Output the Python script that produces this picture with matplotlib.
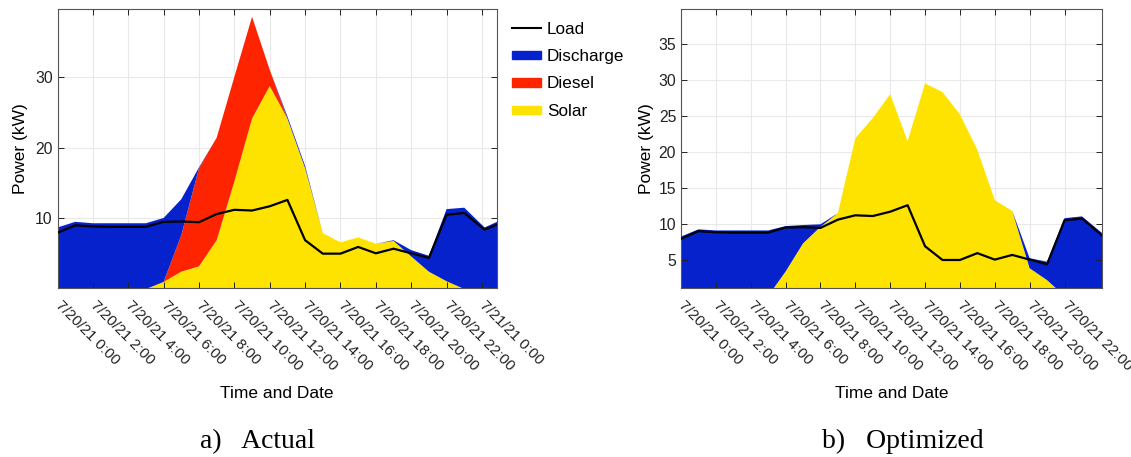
import matplotlib
matplotlib.use("Agg")
import matplotlib.pyplot as plt
from matplotlib.patches import Patch
from matplotlib.lines import Line2D

plt.rcParams['font.family'] = ['Liberation Sans', 'DejaVu Sans']

# hourly samples, 7/20/21 0:00 onwards (hours since midnight)
hours_act = [0, 1, 2, 3, 4, 5, 6, 7, 8, 9, 10, 11, 12, 13, 14, 15, 16, 17, 18, 19,
             20, 21, 22, 23, 24.15, 24.85]
hours_opt = hours_act[:25]

load_kw = [7.95, 9.0, 8.85, 8.8, 8.8, 8.8, 9.5, 9.55, 9.45, 10.6, 11.2, 11.1, 11.7,
           12.6, 6.9, 5.0, 5.0, 5.95, 5.05, 5.7, 5.05, 4.4, 10.5, 10.75, 8.4, 9.1]

# a) actual dispatch
solar_act = [0, 0, 0, 0, 0, 0, 1.0, 2.45, 3.2, 6.9, 15.2, 24.1, 28.7, 24.1, 17.1,
             7.9, 6.6, 7.3, 6.4, 6.8, 4.6, 2.45, 1.1, 0, 0, 0]
diesel_act = [0, 0, 0, 0, 0, 0, 0, 5.15, 13.9, 14.5, 14.8, 14.4, 2.3, 0, 0,
              0, 0, 0, 0, 0, 0, 0, 0, 0, 0, 0]
discharge_act = [8.7, 9.5, 9.3, 9.3, 9.3, 9.3, 9.05, 5.1, 0.1, 0, 0, 0, 0, 0.3, 0.3,
                 0, 0, 0, 0, 0.1, 0.9, 2.25, 10.2, 11.5, 8.7, 9.5]

# b) optimized dispatch
solar_opt = [0, 0, 0, 0, 0, 0, 3.4, 7.3, 9.6, 11.5, 21.9, 24.7, 28.0, 21.5, 29.5,
             28.3, 25.2, 20.3, 13.3, 11.8, 3.85, 2.2, 0, 0, 0]
diesel_opt = [0] * 25
discharge_opt = [8.25, 9.25, 9.1, 9.1, 9.1, 9.1, 6.3, 2.55, 0.35, 0, 0, 0, 0, 0, 0,
                 0, 0, 0, 0, 0, 1.4, 2.55, 10.8, 11.05, 8.75]

ticks_act = [0, 2, 4, 6, 8, 10, 12, 14, 16, 18, 20, 22, 24]
ticks_opt = ticks_act[:12]
tick_labels = ["7/20/21 0:00", "7/20/21 2:00", "7/20/21 4:00", "7/20/21 6:00",
               "7/20/21 8:00", "7/20/21 10:00", "7/20/21 12:00", "7/20/21 14:00",
               "7/20/21 16:00", "7/20/21 18:00", "7/20/21 20:00", "7/20/21 22:00",
               "7/21/21 0:00"]

C_DIS, C_DSL, C_SOL = "#0522cc", "#ff2400", "#ffe300"
W, H = 1131, 457


def panel(ax, hrs, solar, diesel, dis, load, xticks, xlim, ylim, yticks, ylab_x):
    ax.stackplot(hrs, solar, diesel, dis, colors=[C_SOL, C_DSL, C_DIS], lw=0, zorder=1)
    ax.plot(hrs, load, color="k", lw=1.6, zorder=3)
    for t in xticks:
        ax.axvline(t, color="#e9e9e9", lw=0.8, zorder=0)
    for t in yticks:
        ax.axhline(t, color="#e9e9e9", lw=0.8, zorder=0)
    ax.set_xlim(*xlim); ax.set_ylim(*ylim)
    ax.set_yticks(yticks)
    ax.set_xticks(xticks)
    ax.set_xticklabels(tick_labels[:len(xticks)], rotation=-45, ha="left", va="center",
                       rotation_mode="anchor")
    ax.tick_params(direction="in", length=4, width=0.7, top=True, right=True,
                   labelsize=11.3, colors="#222222")
    ax.tick_params(axis="x", pad=11.0, labelsize=10.8)
    ax.tick_params(axis="y", pad=3.5)
    for s in ax.spines.values():
        s.set_color("#555555"); s.set_linewidth(0.8)
    ax.set_ylabel("Power (kW)", fontsize=12.5)
    ax.yaxis.set_label_coords(ylab_x, 0.5)
    ax.set_xlabel("Time and Date", fontsize=12.5)
    ax.xaxis.set_label_coords(0.5, -0.349)


fig = plt.figure(figsize=(W / 100, H / 100), dpi=100)
axA = fig.add_axes([57.5 / W, 1 - 288.3 / H, (497 - 57.5) / W, (288.3 - 9) / H])
axB = fig.add_axes([681 / W, 1 - 288.3 / H, (1102 - 681) / W, (288.3 - 9.5) / H])

panel(axA, hours_act, solar_act, diesel_act, discharge_act, load_kw,
      ticks_act, (0, 24.85), (0.1, 39.6), [10, 20, 30], -0.068)
panel(axB, hours_opt, solar_opt, diesel_opt, discharge_opt, load_kw[:25],
      ticks_opt, (0, 24.15), (1.07, 39.76), [5, 10, 15, 20, 25, 30, 35], -0.063)

handles = [Line2D([], [], color="k", lw=1.5),
           Patch(color=C_DIS), Patch(color=C_DSL), Patch(color=C_SOL)]
fig.legend(handles, ["Load", "Discharge", "Diesel", "Solar"], loc="upper left",
           bbox_to_anchor=(511.7 / W, 1 - 21.5 / H), frameon=False, borderpad=0,
           borderaxespad=0, handlelength=1.72, handleheight=0.38, handletextpad=0.33,
           labelspacing=0.73, fontsize=12.3)

fig.text(257.5 / W, 1 - 448 / H, "a)   Actual", ha="center", va="baseline",
         family="Liberation Serif", size=20)
fig.text(903 / W, 1 - 448 / H, "b)   Optimized", ha="center", va="baseline",
         family="Liberation Serif", size=20)

fig.savefig("out.png", dpi=100)
